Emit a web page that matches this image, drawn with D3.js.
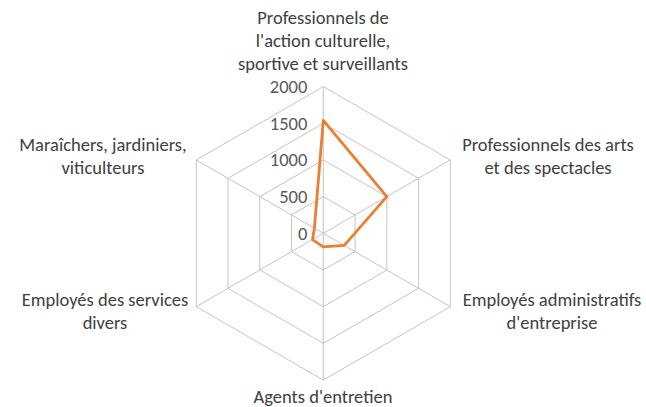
<!DOCTYPE html>
<html>
<head>
<meta charset="utf-8">
<script src="https://cdn.jsdelivr.net/npm/d3@7"></script>
<style>
  body { margin: 0; background: #fff; }
  svg text { font-family: Carlito, Calibri, Lato, "Liberation Sans", sans-serif; }
</style>
</head>
<body>
<svg id="radar" width="646" height="407"></svg>
<script>
// categories, clockwise from the top
var categories = [
  ["Professionnels de", "l'action culturelle,", "sportive et surveillants"],
  ["Professionnels des arts", "et des spectacles"],
  ["Employés administratifs", "d'entreprise"],
  ["Agents d'entretien"],
  ["Employés des services", "divers"],
  ["Maraîchers, jardiniers,", "viticulteurs"]
];
var values = [1540, 1000, 330, 185, 170, 140];
var tickValues = [0, 500, 1000, 1500, 2000];

var svg = d3.select("#radar");
var cx = 323.3, cy = 233.3;
var rScale = d3.scaleLinear().domain([0, 2000]).range([0, 146.7]);
var n = categories.length;
var angle = d3.scaleLinear().domain([0, n]).range([0, 2 * Math.PI]);

var g = svg.append("g").attr("transform", "translate(" + cx + "," + cy + ")");

// grid rings
tickValues.slice(1).forEach(function(t) {
  var pts = d3.range(n).map(function(i) {
    return [rScale(t) * Math.sin(angle(i)), -rScale(t) * Math.cos(angle(i))];
  });
  g.append("path")
    .attr("d", d3.line().curve(d3.curveLinearClosed)(pts))
    .attr("fill", "none")
    .attr("stroke", "#c4c4c4")
    .attr("stroke-width", 1);
});

// spokes
d3.range(n).forEach(function(i) {
  g.append("line")
    .attr("x1", 0).attr("y1", 0)
    .attr("x2", rScale(2000) * Math.sin(angle(i)))
    .attr("y2", -rScale(2000) * Math.cos(angle(i)))
    .attr("stroke", "#c4c4c4")
    .attr("stroke-width", 1);
});

// tick labels
g.selectAll("text.tick")
  .data(tickValues)
  .enter()
  .append("text")
  .attr("class", "tick")
  .attr("x", -16)
  .attr("y", d => -rScale(d))
  .attr("dy", "0.35em")
  .attr("text-anchor", "end")
  .style("font-size", "18.5px")
  .attr("fill", "#595959")
  .text(d => d);

// series
var radial = d3.lineRadial()
  .angle((d, i) => angle(i))
  .radius(d => rScale(d))
  .curve(d3.curveLinearClosed);

g.append("path")
  .attr("d", radial(values))
  .attr("fill", "none")
  .attr("stroke", "#ED7D31")
  .attr("stroke-width", 2.8)
  .attr("stroke-linejoin", "round");

// category labels
var labelPos = [
  {x: 323, y: 24, anchor: "middle"},
  {x: 548, y: 151, anchor: "middle"},
  {x: 552, y: 306, anchor: "middle"},
  {x: 323, y: 403, anchor: "middle"},
  {x: 105, y: 306, anchor: "middle"},
  {x: 103, y: 151, anchor: "middle"}
];

categories.forEach(function(lines, i) {
  var p = labelPos[i];
  var t = svg.append("text")
    .attr("x", p.x)
    .attr("y", p.y)
    .attr("text-anchor", p.anchor)
    .style("font-size", "18.5px")
    .attr("fill", "#404040");
  lines.forEach(function(s, j) {
    t.append("tspan").attr("x", p.x).attr("dy", j === 0 ? 0 : 23).text(s);
  });
});
</script>
</body>
</html>
